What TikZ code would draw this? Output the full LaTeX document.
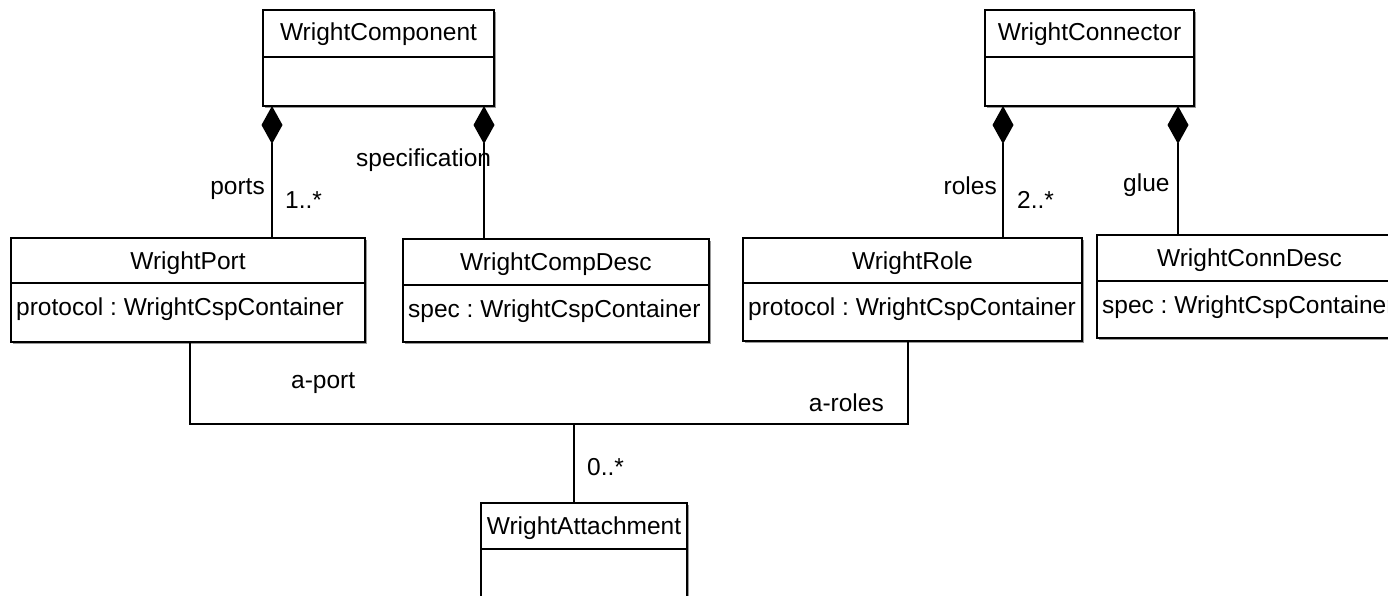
\documentclass[tikz,border=0pt]{standalone}
\usepackage{fontspec}
\setmainfont{Liberation Sans}
\usetikzlibrary{arrows.meta}
\frenchspacing

\tikzset{
  classbox/.style={draw=black, line width=1.6pt, fill=white, inner sep=0pt,
    outer sep=0pt, anchor=north west},
  boxshadow/.style={fill=black!40, draw=none},
  divider/.style={line width=1.4pt},
  umltext/.style={inner sep=0pt, font=\fontsize{24.5}{28}\selectfont},
  link/.style={line width=1.4pt},
  composite/.style={link, -{Diamond[length=38pt, width=21pt, line join=miter]}},
}

% class box: name, left, top, right, bottom, divider y, title, attribute
\newcommand\umlclass[8]{%
  \fill[boxshadow] (#2+2,#3+2) rectangle (#4+2,#5+2);
  \node[classbox, minimum width={(#4-#2)*1pt}, minimum height={(#5-#3)*1pt}] (#1) at (#2,#3) {};
  \draw[divider] (#2,#6) -- (#4,#6);
  \node[umltext, anchor=base] (#1-title) at ({(#2+#4)/2},#3+31) {#7};
  \if\relax\detokenize{#8}\relax\else
    \node[umltext, anchor=base west] (#1-attr) at (#2+5,#6+32) {#8};
  \fi
}

\begin{document}
\begin{tikzpicture}[x=1pt, y=-1pt]
  \useasboundingbox (0,0) rectangle (1388,596);
  \clip (0,0) rectangle (1388,596);
  \fill[white] (0,0) rectangle (1388,596);

  % classes
  \umlclass{comp}{263}{10}{494}{106}{57}{WrightComponent}{}
  \umlclass{conn}{985}{10}{1194}{106}{57}{WrightConnector}{}
  \umlclass{port}{11}{238}{365}{342}{283}{WrightPort}{protocol : WrightCspContainer}
  \umlclass{cdesc}{403}{239}{709}{342}{285}{WrightCompDesc}{spec : WrightCspContainer}
  \umlclass{role}{743}{238}{1082}{341}{283}{WrightRole}{protocol : WrightCspContainer}
  \umlclass{kdesc}{1097}{235}{1402}{338}{281}{WrightConnDesc}{spec : WrightCspContainer}
  \umlclass{attach}{481}{503}{687}{650}{549}{WrightAttachment}{}

  % x positions of the connector legs
  \coordinate (xp) at (272,0);
  \coordinate (xs) at (484,0);
  \coordinate (xr) at (1003,0);
  \coordinate (xg) at (1178,0);
  \coordinate (xa) at (190,0);
  \coordinate (xb) at (908,0);
  \coordinate (xm) at (574,0);
  \coordinate (bus) at (0,424);

  % compositions
  \draw[composite] (port.north -| xp) -- (comp.south -| xp);
  \draw[composite] (cdesc.north -| xs) -- (comp.south -| xs);
  \draw[composite] (role.north -| xr) -- (conn.south -| xr);
  \draw[composite] (kdesc.north -| xg) -- (conn.south -| xg);

  % attachment association
  \draw[link] (port.south -| xa) |- (bus -| xb) -- (role.south -| xb);
  \draw[link] (attach.north -| xm) -- (bus -| xm);

  % role names and multiplicities
  \node[umltext, anchor=base east] (l-ports) at (265,194) {ports};
  \node[umltext, anchor=base west] (l-pmult) at (285,208) {1..*};
  \node[umltext, anchor=base west] (l-spec) at (356,167) {specification};
  \node[umltext, anchor=base east] (l-roles) at (997,194) {roles};
  \node[umltext, anchor=base west] (l-rmult) at (1017,208) {2..*};
  \node[umltext, anchor=base west] (l-glue) at (1123,192) {glue};
  \node[umltext, anchor=base west] (l-aport) at (291,388) {a-port};
  \node[umltext, anchor=base east] (l-aroles) at (884,411) {a-roles};
  \node[umltext, anchor=base west] (l-amult) at (587,475) {0..*};
\end{tikzpicture}
\end{document}
